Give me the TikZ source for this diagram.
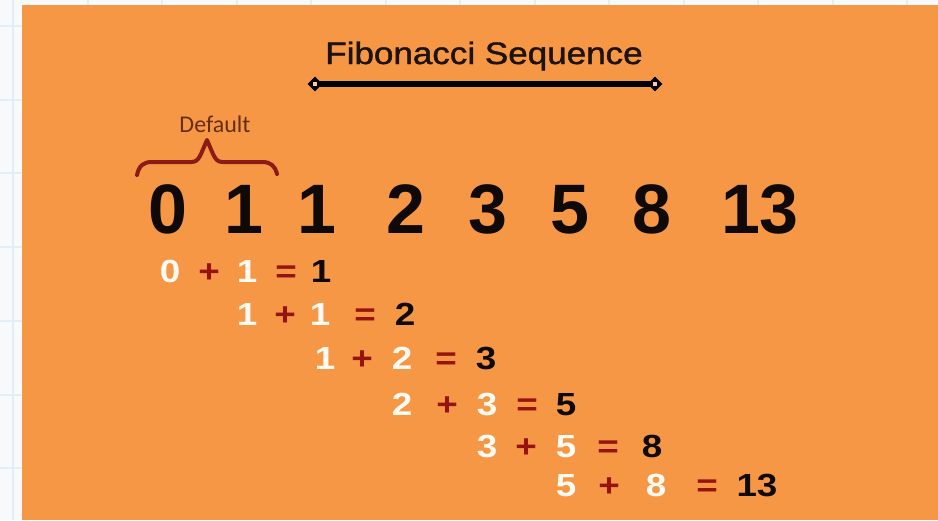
\documentclass[tikz,border=0pt]{standalone}
\usepackage{fontspec}
\usepackage{graphicx}
\setmainfont{Liberation Sans}
\newfontfamily\calfont{Carlito}
\newfontfamily\titlefont[FakeBold=1.3]{Liberation Sans}
\usetikzlibrary{shapes.geometric,calc}
\definecolor{pagebg}{RGB}{248,249,250}
\definecolor{gridblue}{RGB}{226,239,250}
\definecolor{orangebg}{RGB}{246,151,70}
\definecolor{titlecol}{RGB}{30,18,12}
\definecolor{bracered}{RGB}{140,26,22}
\definecolor{defcol}{RGB}{105,45,18}
\definecolor{opred}{RGB}{150,20,15}
\definecolor{numwhite}{RGB}{255,250,242}
\definecolor{numblack}{RGB}{15,10,8}
\newcommand\stretchnum[1]{\scalebox{1.15}[1]{#1}}
\begin{document}
\begin{tikzpicture}[x=1pt,y=-1pt,
  bignum/.style={anchor=base, inner sep=0pt, text=numblack, font=\fontsize{70}{80}\selectfont\bfseries},
  eqbase/.style={anchor=base, inner sep=0pt, font=\fontsize{32}{36}\selectfont\bfseries},
  lhs/.style={eqbase, text=numwhite},
  opsym/.style={eqbase, text=opred},
  res/.style={eqbase, text=numblack},
  handle/.style={diamond, fill=black, inner sep=0pt, minimum width=15pt, minimum height=15pt}]
\useasboundingbox (0,0) rectangle (938,520);
\fill[pagebg] (0,0) rectangle (938,520);
\foreach \k in {0,...,12} \draw[gridblue, line width=2pt] ({13+74.5*\k},0) -- ({13+74.5*\k},520);
\foreach \k in {0,...,6} \draw[gridblue, line width=2pt] (0,{26+73.7*\k}) -- (938,{26+73.7*\k});
\fill[orangebg] (22,5) rectangle (938,520);

% title
\node[anchor=base, inner sep=0pt, text=titlecol, font=\titlefont\fontsize{31}{34}\selectfont] (title) at (484,64) {\scalebox{1.13}[1]{Fibonacci Sequence}};
\coordinate (lineL) at (315,84);
\coordinate (lineR) at (655,84);
\draw[line width=6pt, black] (lineL) -- (lineR);
\node[handle] (hL) at (lineL) {};
\node[handle] (hR) at (lineR) {};
\fill[orangebg!50!white] ($(lineL)+(-2,-2)$) rectangle ++(4,4);
\fill[orangebg!50!white] ($(lineR)+(-2,-2)$) rectangle ++(4,4);

% default brace
\node[inner sep=0pt, text=defcol, font=\calfont\fontsize{24}{28}\selectfont] (default) at (215,124) {Default};
\draw[bracered, line width=4pt, line cap=round, line join=round]
  (137,175) .. controls (139,166) and (143,162) .. (152,162) -- (192,162)
  .. controls (197,162) and (199,158) .. (201,154) -- (207,140) -- (213,154)
  .. controls (215,158) and (217,162) .. (222,162) -- (262,162)
  .. controls (271,162) and (275,166) .. (277,174);

% big sequence
\node[bignum] (s0) at (168,233) {0};
\node[bignum] (s1) at (244,233) {1};
\node[bignum] (s2) at (317,233) {1};
\node[bignum] (s3) at (406,233) {2};
\node[bignum] (s4) at (488,233) {3};
\node[bignum] (s5) at (570,233) {5};
\node[bignum] (s6) at (652,233) {8};
\node[bignum] (s7) at (760,233) {13};

% equations
\node[lhs]   (a1) at (170,282) {\stretchnum{0}};
\node[opsym] (p1) at (209,282) {\stretchnum{+}};
\node[lhs]   (b1) at (247,282) {\stretchnum{1}};
\node[opsym] (e1) at (286,282) {\stretchnum{=}};
\node[res]   (r1) at (321,282) {\stretchnum{1}};

\node[lhs]   (a2) at (247,325) {\stretchnum{1}};
\node[opsym] (p2) at (285,325) {\stretchnum{+}};
\node[lhs]   (b2) at (320,325) {\stretchnum{1}};
\node[opsym] (e2) at (365,325) {\stretchnum{=}};
\node[res]   (r2) at (405,325) {\stretchnum{2}};

\node[lhs]   (a3) at (325,369) {\stretchnum{1}};
\node[opsym] (p3) at (362,369) {\stretchnum{+}};
\node[lhs]   (b3) at (402,369) {\stretchnum{2}};
\node[opsym] (e3) at (446,369) {\stretchnum{=}};
\node[res]   (r3) at (486,369) {\stretchnum{3}};

\node[lhs]   (a4) at (402,415) {\stretchnum{2}};
\node[opsym] (p4) at (447,415) {\stretchnum{+}};
\node[lhs]   (b4) at (487,415) {\stretchnum{3}};
\node[opsym] (e4) at (527,415) {\stretchnum{=}};
\node[res]   (r4) at (566,415) {\stretchnum{5}};

\node[lhs]   (a5) at (487,457) {\stretchnum{3}};
\node[opsym] (p5) at (526,457) {\stretchnum{+}};
\node[lhs]   (b5) at (566,457) {\stretchnum{5}};
\node[opsym] (e5) at (608,457) {\stretchnum{=}};
\node[res]   (r5) at (652,457) {\stretchnum{8}};

\node[lhs]   (a6) at (566,496) {\stretchnum{5}};
\node[opsym] (p6) at (609,496) {\stretchnum{+}};
\node[lhs]   (b6) at (656,496) {\stretchnum{8}};
\node[opsym] (e6) at (707,496) {\stretchnum{=}};
\node[res]   (r6) at (757,496) {\stretchnum{13}};
\end{tikzpicture}
\end{document}
